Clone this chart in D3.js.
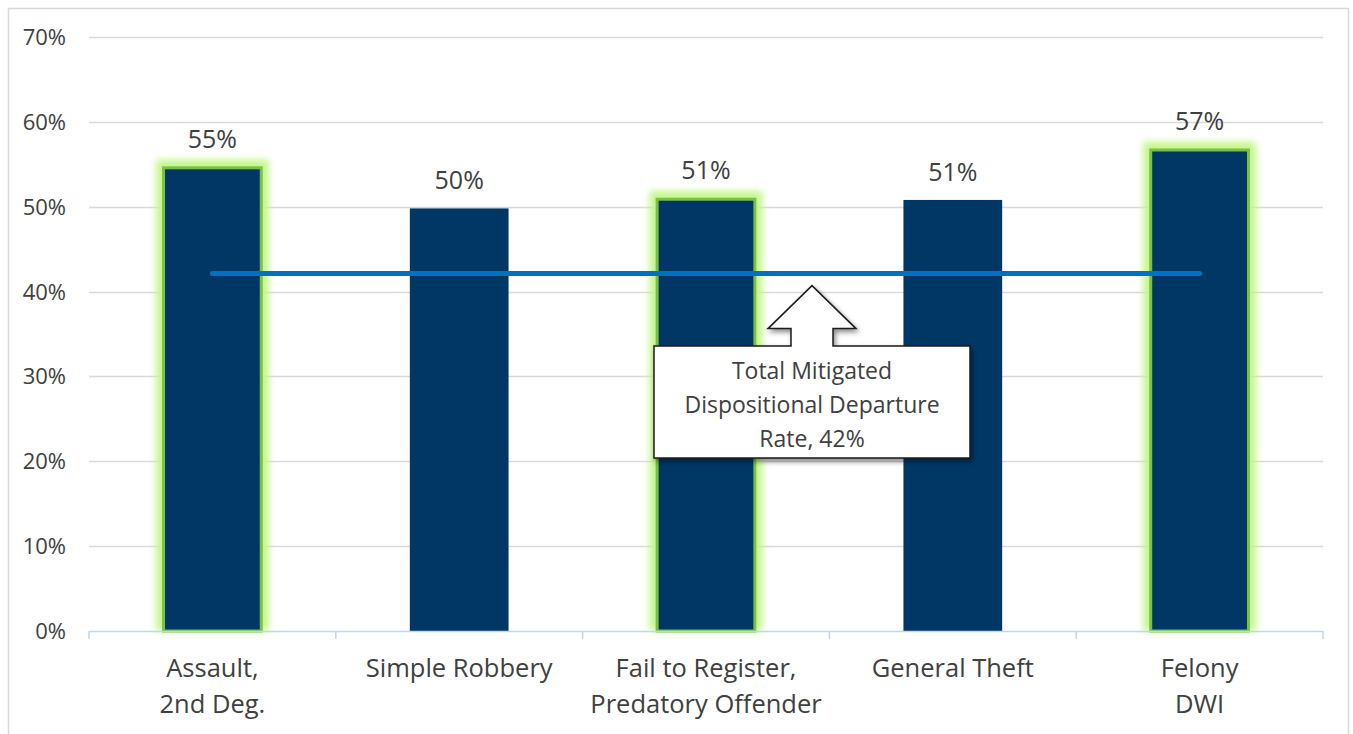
<!DOCTYPE html>
<html><head><meta charset="utf-8">
<script src="https://cdn.jsdelivr.net/npm/d3@7/dist/d3.min.js"></script>
<style>body{margin:0;background:#fff}svg{display:block}text{font-family:"Open Sans",sans-serif}</style>
</head><body><svg id="c" width="1353" height="734"></svg>
<script>
const categories = [["Assault,","2nd Deg."],["Simple Robbery"],["Fail to Register,","Predatory Offender"],["General Theft"],["Felony","DWI"]];
const values = [0.547, 0.498, 0.51, 0.508, 0.568];
const valueLabels = ["55%","50%","51%","51%","57%"];
const highlighted = [true,false,true,false,true];
const totalRate = 0.42;
const totalLabel = ["Total Mitigated","Dispositional Departure","Rate, 42%"];
const yTicks = [0,0.1,0.2,0.3,0.4,0.5,0.6,0.7];

const svg = d3.select("#c");
const L=89,R=1323,T=37,B=631;
// outer frame
svg.append("rect").attr("x",8.5).attr("y",8.5).attr("width",1340).attr("height",740).attr("fill","none").attr("stroke","#D9D9D9").attr("stroke-width",1.5);

const x = d3.scaleBand().domain(d3.range(categories.length)).range([L,R]).paddingInner(0.6).paddingOuter(0.3);
const xb = d3.scaleBand().domain(d3.range(categories.length)).range([L,R]);
const y = d3.scaleLinear().domain([0,0.7]).range([B,T]);

const defs = svg.append("defs");
const f = defs.append("filter").attr("id","glow").attr("x","-30%").attr("y","-30%").attr("width","160%").attr("height","160%");
f.append("feGaussianBlur").attr("in","SourceGraphic").attr("stdDeviation",3.5);
const sh = defs.append("filter").attr("id","shadow").attr("x","-20%").attr("y","-20%").attr("width","140%").attr("height","140%");
sh.append("feDropShadow").attr("dx",2).attr("dy",3).attr("stdDeviation",2.5).attr("flood-color","#000").attr("flood-opacity",0.45);

// gridlines
svg.append("g").selectAll("line").data(yTicks.slice(1)).join("line")
  .attr("x1",L).attr("x2",R).attr("y1",d=>Math.round(y(d))+0.5).attr("y2",d=>Math.round(y(d))+0.5)
  .attr("stroke","#D9D9D9").attr("stroke-width",1.5);
// y labels
svg.append("g").selectAll("text").data(yTicks).join("text")
  .attr("x",66).attr("y",d=>y(d)+8).attr("text-anchor","end").attr("font-size",22).attr("fill","#404040")
  .text(d=>d3.format(".0%")(d));

// glow
svg.append("g").selectAll("rect").data(values.map((v,i)=>({v,i})).filter(d=>highlighted[d.i])).join("rect")
  .attr("x",d=>x(d.i)-7).attr("y",d=>y(d.v)-7).attr("width",x.bandwidth()+14).attr("height",d=>B-y(d.v)+7)
  .attr("fill","#C4F58A").attr("opacity",1).attr("filter","url(#glow)");
// bars
svg.append("g").selectAll("rect").data(values).join("rect")
  .attr("x",(d,i)=>x(i)+(highlighted[i]?0.5:0)).attr("y",(d,i)=>y(d)+(highlighted[i]?1:0))
  .attr("width",(d,i)=>x.bandwidth()-(highlighted[i]?1:0)).attr("height",(d,i)=>B-y(d)-(highlighted[i]?1:0))
  .attr("fill","#003764")
  .attr("stroke",(d,i)=>highlighted[i]?"#7AC142":"none").attr("stroke-width",3);
// value labels
svg.append("g").selectAll("text").data(values).join("text")
  .attr("x",(d,i)=>x(i)+x.bandwidth()/2).attr("y",d=>y(d)-19).attr("text-anchor","middle")
  .attr("font-size",25).attr("fill","#404040").text((d,i)=>valueLabels[i]);

// x axis
const ax = svg.append("g").attr("stroke","#BDD7EE").attr("stroke-width",1.5);
ax.append("line").attr("x1",L).attr("x2",R).attr("y1",B+0.5).attr("y2",B+0.5);
ax.selectAll("line.t").data(d3.range(categories.length+1)).join("line").attr("class","t")
  .attr("x1",i=>i<categories.length?xb(i):R).attr("x2",i=>i<categories.length?xb(i):R)
  .attr("y1",B).attr("y2",B+8);
// category labels
const cl = svg.append("g").selectAll("text").data(categories).join("text")
  .attr("text-anchor","middle").attr("font-size",25.5).attr("fill","#404040")
  .attr("x",(d,i)=>xb(i)+xb.bandwidth()/2).attr("y",677);
cl.selectAll("tspan").data(d=>d).join("tspan").attr("x",function(){return this.parentNode.getAttribute("x");})
  .attr("dy",(d,j)=>j?36:0).text(d=>d);

// total line
const lx1 = x(0)+x.bandwidth()/2, lx2 = x(categories.length-1)+x.bandwidth()/2;
svg.append("line").attr("x1",lx1).attr("x2",lx2).attr("y1",y(totalRate)-1).attr("y2",y(totalRate)-1)
  .attr("stroke","#0070C0").attr("stroke-width",5).attr("stroke-linecap","round");

// callout
const cx = 812, tipY = y(totalRate)+11;
const bx1=654,bx2=970,by1=346,by2=458;
const path = `M${bx1},${by1} L${cx-21},${by1} L${cx-21},${tipY+43} L${cx-44},${tipY+43} L${cx},${tipY} L${cx+44},${tipY+43} L${cx+21},${tipY+43} L${cx+21},${by1} L${bx2},${by1} L${bx2},${by2} L${bx1},${by2} Z`;
svg.append("path").attr("d",path).attr("fill","#fff").attr("stroke","#1a1a1a").attr("stroke-width",1.5).attr("filter","url(#shadow)");
svg.append("g").selectAll("text").data(totalLabel).join("text")
  .attr("x",(bx1+bx2)/2).attr("y",(d,i)=>379+i*34).attr("text-anchor","middle").attr("font-size",23).attr("fill","#404040").text(d=>d);
</script></body></html>
